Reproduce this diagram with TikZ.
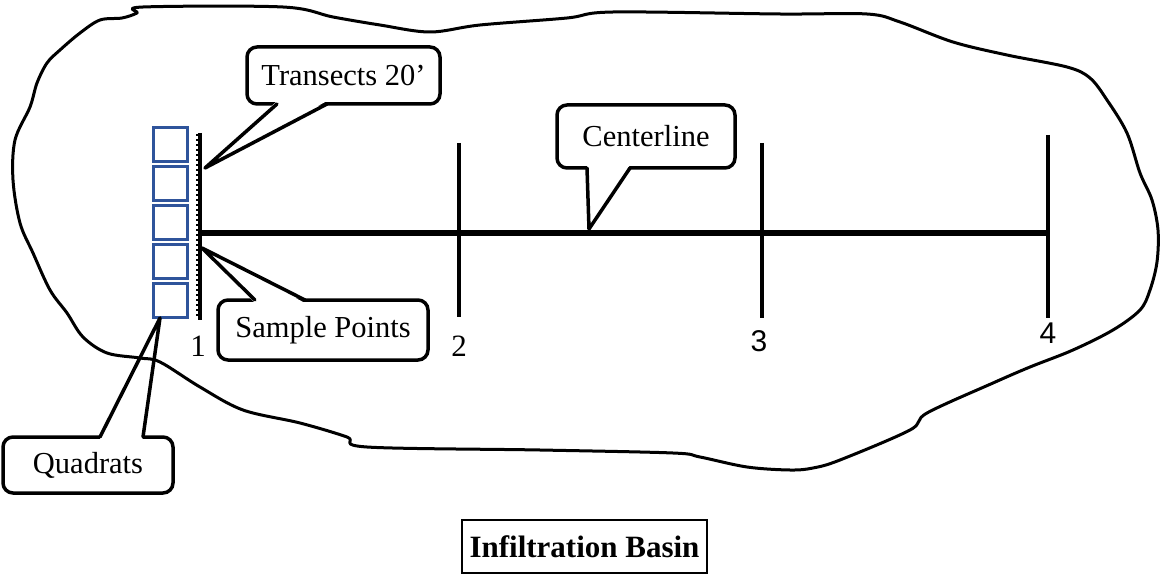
\documentclass[tikz,border=0pt]{standalone}
\usepackage{fontspec}
\setmainfont{Liberation Serif}
\newfontfamily\numsans{Liberation Sans}
\usetikzlibrary{calc}
\definecolor{quadblue}{RGB}{47,84,155}
\begin{document}
\begin{tikzpicture}[x=1pt,y=-1pt,
  lbl/.style={font=\fontsize{30.5}{36}\selectfont},
  callbox/.style={draw, line width=3.5pt, rounded corners=10pt, fill=white, inner sep=0pt, outer sep=0pt, lbl},
  ptr/.style={line width=3.5pt, line join=round, line cap=round},
  quad/.style={draw=quadblue, line width=3pt, minimum size=34pt, inner sep=0pt, outer sep=0pt},
  transect/.style={line width=4pt},
  center line/.style={line width=5.5pt},
  numlbl/.style={inner sep=0pt, font=\fontsize{31}{36}\selectfont},
  basin/.style={line width=3pt, line join=round}
]
\useasboundingbox (0,0) rectangle (1160,575);

% basin outline
\draw[basin] plot[smooth cycle, tension=0.55] coordinates {
(143,7) (283,7) (333,17) (380,25) (430,32) (480,25) (567,18) (613,12) (780,14) (867,14) (900,22) (953,42) (1007,55) (1067,67) (1090,78) (1107,100) (1127,133) (1140,173) (1152,200) (1158,230) (1157,262) (1150,290) (1140,310) (1113,330) (1073,350) (1030,367) (993,383) (927,413) (910,430) (840,460) (813,468) (790,470) (747,467) (700,457) (673,453) (540,450) (367,447) (347,437) (300,423) (243,410) (200,387) (160,362) (140,358) (107,353) (83,337) (67,313) (50,290) (33,253) (20,223) (13,180) (15,140) (30,107) (37,83) (47,63) (60,50) (80,33) (100,20) (122,18) (137,13)
};

% transects and centerline
\coordinate (c0) at (200,233);
\coordinate (c4) at (1047,233);
\coordinate (t1a) at (200,133); \coordinate (t1b) at (200,320);
\coordinate (t2a) at (459,143); \coordinate (t2b) at (459,317);
\coordinate (t3a) at (762,143); \coordinate (t3b) at (762,318);
\coordinate (t4a) at (1048,135); \coordinate (t4b) at (1048,318);
\coordinate (s1a) at (197,134); \coordinate (s1b) at (197,318);
\draw[center line] (c0) -- (c4);
\draw[line width=2pt, dash pattern=on 1.6pt off 3.4pt] (s1a) -- (s1b);
\draw[line width=3.2pt] (t1a) -- (t1b);
\draw[transect] (t2a) -- (t2b);
\draw[transect] (t3a) -- (t3b);
\draw[transect] (t4a) -- (t4b);

% transect numbers
\node[numlbl] (n1) at (198,346) {1};
\node[numlbl] (n2) at (459,346) {2};
\node[numlbl, font=\fontsize{30}{36}\selectfont\numsans] (n3) at (759,341) {3};
\node[numlbl, font=\fontsize{30}{36}\selectfont\numsans] (n4) at (1048,333) {4};

% quadrats
\foreach \i/\y in {1/145,2/183.75,3/222.5,4/261.25,5/300}{
  \node[quad] (q\i) at (170.5,\y) {};
}

% callout: Transects 20'
\node[callbox, minimum width=193pt, minimum height=57pt] (tr) at (343.5,75.5) {Transects 20’};
\coordinate (trtip) at (205,168);
\fill[white] ($(tr.south west)+(30,-3)$) -- (trtip) -- ($(tr.south west)+(80,-3)$) -- cycle;
\draw[ptr] ($(tr.south west)+(30,0)$) -- (trtip) -- ($(tr.south west)+(80,0)$);

% callout: Sample Points
\node[callbox, minimum width=210pt, minimum height=60pt] (sp) at (323,330) {Sample Points};
\coordinate (sptip) at (202,248);
\fill[white] ($(sp.north west)+(37,3)$) -- (sptip) -- ($(sp.north west)+(87,3)$) -- cycle;
\draw[ptr] ($(sp.north west)+(37,0)$) -- (sptip) -- ($(sp.north west)+(87,0)$);

% callout: Centerline
\node[callbox, minimum width=178pt, minimum height=63pt] (cl) at (646,136.5) {Centerline};
\coordinate (cltip) at (589,229);
\fill[white] ($(cl.south west)+(30,-3)$) -- (cltip) -- ($(cl.south west)+(73,-3)$) -- cycle;
\draw[ptr] ($(cl.south west)+(30,0)$) -- (cltip) -- ($(cl.south west)+(73,0)$);

% callout: Quadrats
\node[callbox, minimum width=170pt, minimum height=56pt] (qd) at (88,465) {Quadrats};
\coordinate (qdtip) at (160,318);
\fill[white] ($(qd.north west)+(97,3)$) -- ($(qd.north west)+(97,-4)$) -- ($(qd.north west)+(140,-4)$) -- ($(qd.north west)+(140,3)$) -- cycle;
\draw[ptr] ($(qd.north west)+(97,0)$) -- (qdtip) -- ($(qd.north west)+(140,0)$);

% title
\node[draw, line width=1.5pt, minimum width=245pt, minimum height=53pt, inner sep=0pt, font=\fontsize{31}{36}\selectfont\bfseries] (title) at (584.5,546.5) {Infiltration Basin};
\end{tikzpicture}
\end{document}
